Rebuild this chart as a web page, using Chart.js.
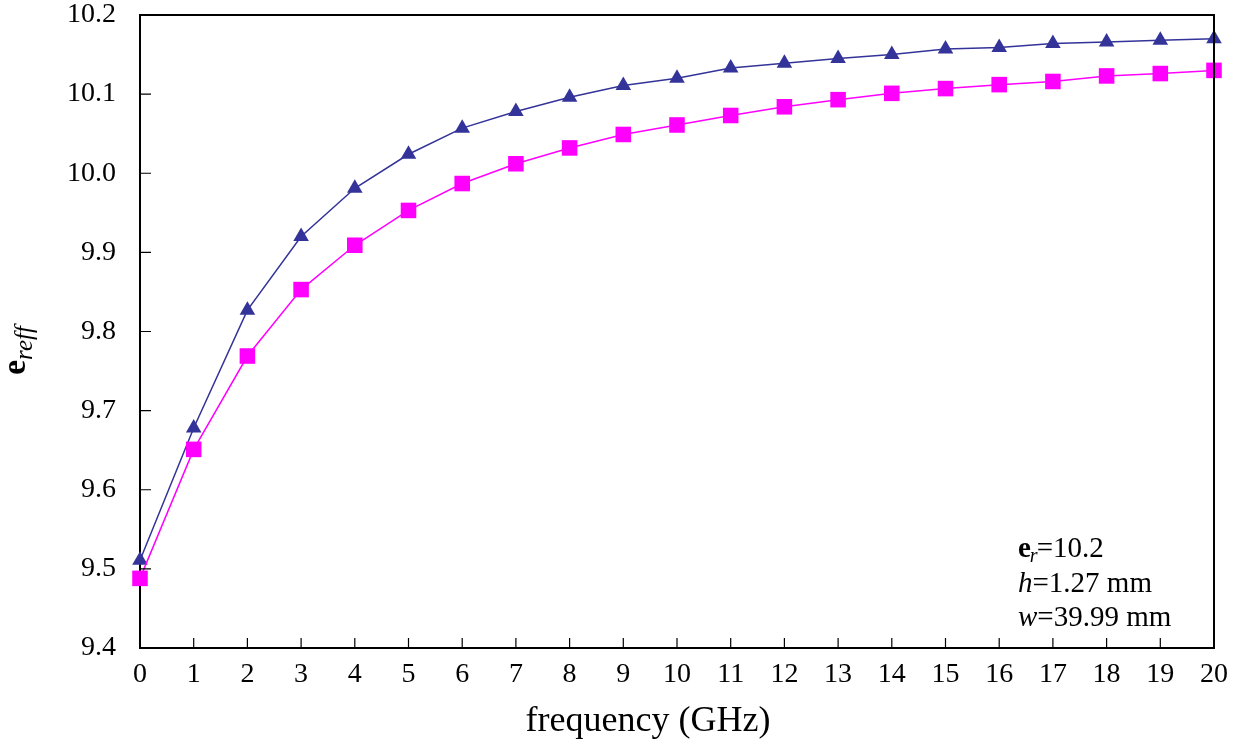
<!DOCTYPE html>
<html>
<head>
<meta charset="utf-8">
<title>effective permittivity vs frequency</title>
<script src="https://cdn.jsdelivr.net/npm/chart.js"></script>
<style>
  html, body { margin: 0; padding: 0; background: #fff; }
</style>
</head>
<body>
<canvas id="myChart" width="1235" height="755"></canvas>
<script>
// datos
const frequency = [0, 1, 2, 3, 4, 5, 6, 7, 8, 9, 10, 11, 12, 13, 14, 15, 16, 17, 18, 19, 20];
const erTriangle = [9.511, 9.678, 9.827, 9.920, 9.981, 10.024, 10.057, 10.078, 10.096, 10.111, 10.120,
                    10.133, 10.139, 10.145, 10.150, 10.157, 10.159, 10.164, 10.166, 10.168, 10.170];
const erSquare = [9.488, 9.651, 9.769, 9.853, 9.909, 9.953, 9.987, 10.012, 10.032, 10.049, 10.061,
                  10.073, 10.084, 10.093, 10.101, 10.107, 10.112, 10.116, 10.123, 10.126, 10.130];
const yMin = 9.4;
const yMax = 10.2;
const yStep = 0.1;
const xTitle = "frequency (GHz)";

const serif = "'Liberation Serif', 'Times New Roman', serif";

// marco, ticks interiores y textos con subindices
const extras = {
    id: 'extras',
    afterDraw(chart) {
        const ctx = chart.ctx;
        const ca = chart.chartArea;
        const xs = chart.scales.x;
        const ys = chart.scales.y;
        ctx.save();
        ctx.strokeStyle = '#000';
        ctx.lineWidth = 2;
        ctx.beginPath();
        ctx.moveTo(ca.left, ca.top);
        ctx.lineTo(ca.right, ca.top);
        ctx.lineTo(ca.right, ca.bottom);
        ctx.stroke();

        ctx.lineWidth = 1.2;
        ctx.beginPath();
        xs.ticks.forEach(t => {
            const px = xs.getPixelForValue(t.value);
            if (t.value === 0 || t.value === 20) return;
            ctx.moveTo(px, ca.bottom);
            ctx.lineTo(px, ca.bottom - 10);
        });
        ys.ticks.forEach(t => {
            const py = ys.getPixelForValue(t.value);
            if (Math.abs(t.value - yMin) < 1e-6 || Math.abs(t.value - yMax) < 1e-6) return;
            ctx.moveTo(ca.left, py);
            ctx.lineTo(ca.left + 11, py);
        });
        ctx.stroke();

        ctx.fillStyle = '#000';
        ctx.textBaseline = 'alphabetic';

        // titulo eje x
        ctx.font = '36px ' + serif;
        ctx.textAlign = 'center';
        ctx.fillText(xTitle, 648, 731);

        // titulo eje y: e_reff
        ctx.save();
        ctx.translate(25, 375);
        ctx.rotate(-Math.PI / 2);
        ctx.textAlign = 'left';
        ctx.font = 'bold 34px ' + serif;
        ctx.fillText('e', 0, 0);
        const w = ctx.measureText('e').width;
        ctx.font = 'italic 25px ' + serif;
        ctx.fillText('reff', w, 7);
        ctx.restore();

        // nota
        ctx.textAlign = 'left';
        let x = 1018;
        ctx.font = 'bold 29px ' + serif;
        ctx.fillText('e', x, 557);
        x += ctx.measureText('e').width;
        ctx.font = 'italic 20px ' + serif;
        ctx.fillText('r', x - 1, 562);
        x += ctx.measureText('r').width - 2;
        ctx.font = '29px ' + serif;
        ctx.fillText('=10.2', x, 557);

        x = 1018;
        ctx.font = 'italic 29px ' + serif;
        ctx.fillText('h', x, 591.5);
        x += ctx.measureText('h').width;
        ctx.font = '29px ' + serif;
        ctx.fillText('=1.27 mm', x, 591.5);

        x = 1018;
        ctx.font = 'italic 29px ' + serif;
        ctx.fillText('w', x, 625.5);
        x += ctx.measureText('w').width;
        ctx.font = '29px ' + serif;
        ctx.fillText('=39.99 mm', x, 625.5);
        ctx.restore();
    }
};

const ctx = document.getElementById('myChart');

new Chart(ctx, {
    type: 'line',
    data: {
        datasets: [{
            label: 'square',
            data: frequency.map((f, i) => ({ x: f, y: erSquare[i] })),
            borderColor: '#FF00FF',
            backgroundColor: '#FF00FF',
            borderWidth: 1.5,
            pointStyle: 'rect',
            pointRadius: 11,
            pointHoverRadius: 11,
            pointBorderWidth: 0,
            tension: 0,
            clip: false
        }, {
            label: 'triangle',
            data: frequency.map((f, i) => ({ x: f, y: erTriangle[i] })),
            borderColor: '#333399',
            backgroundColor: '#333399',
            borderWidth: 1.5,
            pointStyle: 'triangle',
            pointRadius: 9,
            pointHoverRadius: 9,
            pointBorderWidth: 0,
            tension: 0,
            clip: false
        }]
    },
    options: {
        responsive: false,
        animation: false,
        layout: { padding: { top: 15, right: 21, bottom: 0, left: 0 } },
        plugins: {
            legend: { display: false },
            tooltip: { enabled: false }
        },
        scales: {
            x: {
                type: 'linear',
                min: 0,
                max: 20,
                afterFit: s => { s.height = 107; s.paddingLeft = 0; s.paddingRight = 0; },
                grid: { display: false, drawTicks: false },
                border: { display: true, color: '#000', width: 2 },
                ticks: {
                    stepSize: 1,
                    padding: 10,
                    color: '#000',
                    font: { family: serif, size: 28 },
                    maxRotation: 0,
                    autoSkip: false
                }
            },
            y: {
                min: yMin,
                max: yMax,
                afterFit: s => { s.width = 140; s.paddingTop = 0; s.paddingBottom = 0; },
                grid: { display: false, drawTicks: false },
                border: { display: true, color: '#000', width: 2 },
                ticks: {
                    stepSize: yStep,
                    padding: 24,
                    color: '#000',
                    font: { family: serif, size: 28 },
                    callback: v => Number(v).toFixed(1)
                }
            }
        }
    },
    plugins: [extras]
});
</script>
</body>
</html>
